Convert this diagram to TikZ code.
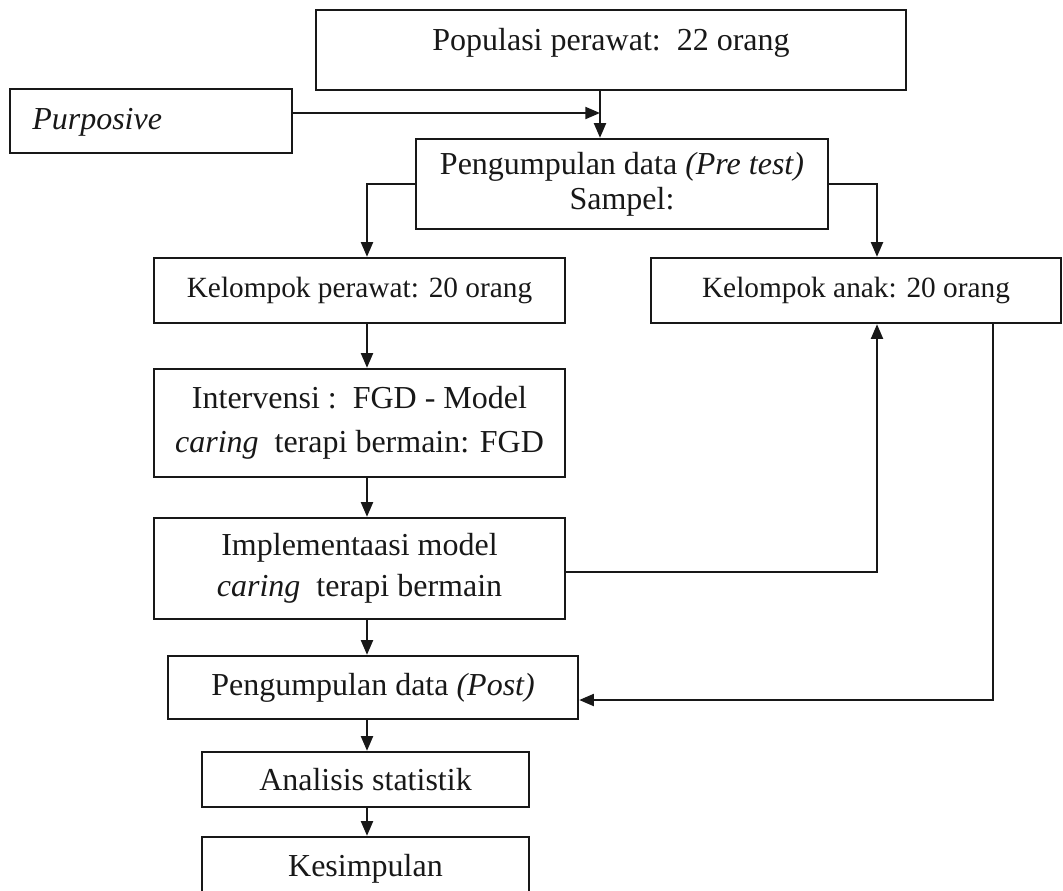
\documentclass[tikz,border=0pt]{standalone}
\usepackage{fontspec}
\setmainfont{Liberation Serif}
\usetikzlibrary{arrows.meta}
\definecolor{ink}{HTML}{181818}
\begin{document}
\begin{tikzpicture}[x=0.75pt,y=-0.75pt,
  box/.style={draw=ink, line width=1.8pt, inner sep=0pt, text=ink, align=center},
  txt/.style={inner sep=0pt, text=ink, align=center},
  big/.style={font=\fontsize{24}{30}\selectfont},
  small/.style={font=\fontsize{22}{26}\selectfont},
  ln/.style={draw=ink, line width=1.5pt},
  arr/.style={ln, -{Triangle[length=11pt,width=9pt]}}
]
\useasboundingbox (0,0) rectangle (1063,890);

% boxes
\node[box, minimum width=442.5pt, minimum height=60pt] (pop) at (611,50) {};
\node[txt, big] (popt) at (611,43) {Populasi perawat:\ \ 22 orang};
\node[box, minimum width=211.5pt, minimum height=48pt] (pur) at (151,121) {};
\node[txt, big, anchor=west] (purt) at (32,122) {\itshape Purposive};
\node[box, minimum width=309pt, minimum height=67.5pt, font=\fontsize{24}{26}\selectfont] (pre) at (622,184)
  {Pengumpulan data \textit{(Pre test)}\\Sampel:};
\node[box, small, minimum width=308.25pt, minimum height=48.75pt] (kp) at (359.5,290.5) {Kelompok perawat: 20 orang};
\node[box, small, minimum width=307.5pt, minimum height=48.75pt] (ka) at (856,290.5) {Kelompok anak: 20 orang};
\node[box, minimum width=308.25pt, minimum height=81pt, font=\fontsize{24}{33}\selectfont] (iv) at (359.5,423)
  {Intervensi :\ \ FGD - Model\\\textit{caring}\ \ terapi bermain: FGD};
\node[box, minimum width=308.25pt, minimum height=75.75pt, font=\fontsize{24}{31}\selectfont] (im) at (359.5,568.5)
  {Implementaasi model\\\textit{caring}\ \ terapi bermain};
\node[box, big, minimum width=307.5pt, minimum height=47.25pt] (post) at (373,687.5) {Pengumpulan data \textit{(Post)}};
\node[box, big, minimum width=245.25pt, minimum height=41.25pt] (an) at (365.5,779.5) {Analisis statistik};
\node[box, big, minimum width=245.25pt, minimum height=47.25pt] (kes) at (365.5,868.5) {Kesimpulan};

% helper coordinates
\coordinate (ax) at (367,0);
\coordinate (j) at (600,113);
\coordinate (pl) at (0,184);
\coordinate (rx1) at (877,0);
\coordinate (iy) at (0,572);
\coordinate (rx2) at (993,0);
\coordinate (ry) at (0,700);

% connectors
\draw[ln] (pop.south -| j) -- (j);
\draw[arr] (j) -- (pre.north -| j);
\draw[arr] (pur.east |- j) -- (j);
\draw[arr] (pre.west |- pl) -| (kp.north -| ax);
\draw[arr] (pre.east |- pl) -| (ka.north -| rx1);
\draw[arr] (kp.south -| ax) -- (iv.north -| ax);
\draw[arr] (iv.south -| ax) -- (im.north -| ax);
\draw[arr] (im.south -| ax) -- (post.north -| ax);
\draw[arr] (post.south -| ax) -- (an.north -| ax);
\draw[arr] (an.south -| ax) -- (kes.north -| ax);
\draw[arr] (im.east |- iy) -| (ka.south -| rx1);
\draw[arr] (ka.south -| rx2) |- (post.east |- ry);
\end{tikzpicture}
\end{document}
